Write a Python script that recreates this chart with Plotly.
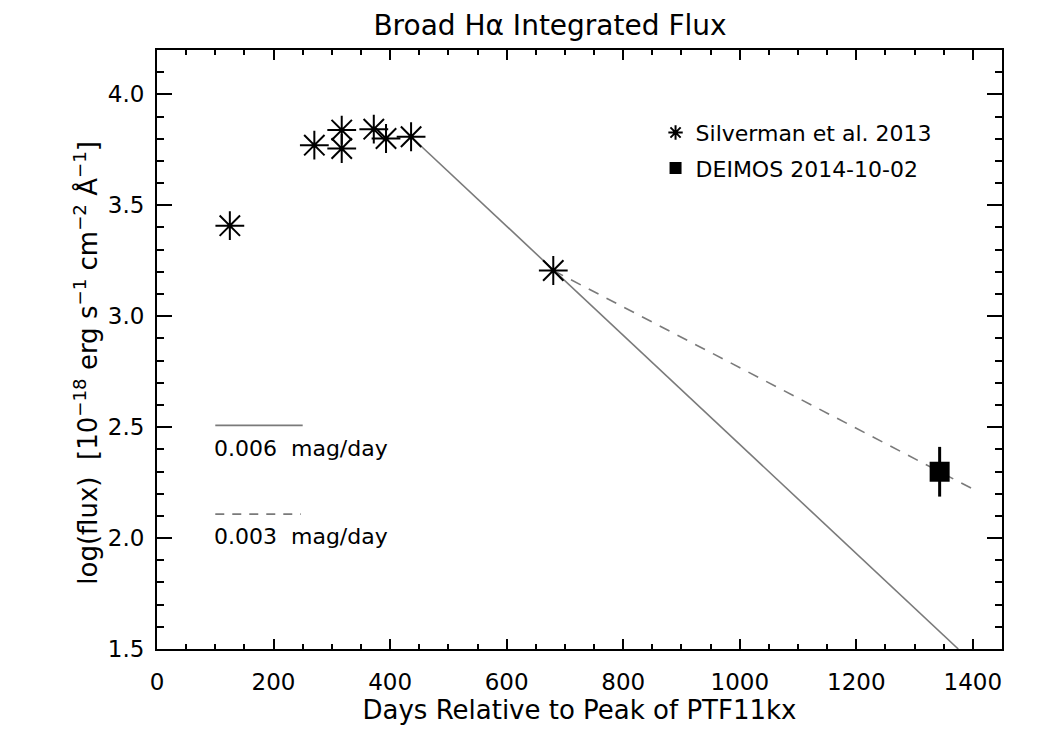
import plotly.graph_objects as go

# ---- data ----
sil_days = [125, 270, 317, 317, 372, 393, 436, 680]
sil_logflux = [3.408, 3.771, 3.839, 3.756, 3.843, 3.801, 3.809, 3.206]

deimos_days = [1343]
deimos_logflux = [2.299]
deimos_err = [0.112]

fast_days = [436, 1375]          # 0.006 mag/day decline
fast_logflux = [3.809, 1.50]
slow_days = [680, 1400]          # 0.003 mag/day decline
slow_logflux = [3.206, 2.221]

x_tickvals = [0, 200, 400, 600, 800, 1000, 1200, 1400]
y_tickvals = [1.5, 2.0, 2.5, 3.0, 3.5, 4.0]
y_ticktext = ["1.5", "2.0", "2.5", "3.0", "3.5", "4.0"]

FONT = "DejaVu Sans"
GRAY = "#7a7a7a"

fig = go.Figure()

fig.add_trace(go.Scatter(x=fast_days, y=fast_logflux, mode="lines",
                         line=dict(color=GRAY, width=1.6), showlegend=False, hoverinfo="skip"))
fig.add_trace(go.Scatter(x=slow_days, y=slow_logflux, mode="lines",
                         line=dict(color=GRAY, width=1.6, dash="11px,9px"),
                         showlegend=False, hoverinfo="skip"))

fig.add_trace(go.Scatter(x=sil_days, y=sil_logflux, mode="markers",
                         name="Silverman et al. 2013", legendgroup="a",
                         marker=dict(symbol="asterisk-open", size=24, color="black",
                                     line=dict(color="black", width=2))))

fig.add_trace(go.Scatter(x=deimos_days, y=deimos_logflux, mode="markers",
                         showlegend=False, hoverinfo="skip",
                         marker=dict(size=1, color="black", opacity=0),
                         error_y=dict(type="data", array=deimos_err, visible=True,
                                      color="black", thickness=3, width=0)))
fig.add_trace(go.Scatter(x=deimos_days, y=deimos_logflux, mode="markers",
                         name="DEIMOS 2014-10-02", legendgroup="b",
                         marker=dict(symbol="square", size=20, color="black",
                                     line=dict(width=0))))

# inline key for decline rates
fig.add_shape(type="line", xref="x", yref="y", x0=100, x1=250, y0=2.508, y1=2.508,
              line=dict(color=GRAY, width=1.6))
fig.add_shape(type="line", xref="x", yref="y", x0=100, x1=247, y0=2.108, y1=2.108,
              line=dict(color=GRAY, width=1.6, dash="9px,8px"))
fig.add_annotation(x=100, y=2.405, xref="x", yref="y", text="0.006  mag/day",
                   showarrow=False, xanchor="left", yanchor="middle",
                   font=dict(family=FONT, size=22, color="black"), xshift=-3)
fig.add_annotation(x=100, y=2.008, xref="x", yref="y", text="0.003  mag/day",
                   showarrow=False, xanchor="left", yanchor="middle",
                   font=dict(family=FONT, size=22, color="black"), xshift=-3)

# y axis title
fig.add_annotation(x=-0.084, y=0.478, xref="paper", yref="paper",
                   text="log(flux)  [10<sup>−18</sup> erg s<sup>−1</sup> cm<sup>−2</sup> Å<sup>−1</sup>]",
                   textangle=-90, showarrow=False, xanchor="center", yanchor="middle",
                   font=dict(family=FONT, size=26, color="black"))

axis_common = dict(showline=True, linecolor="black", linewidth=2, mirror="allticks",
                   ticks="inside", tickcolor="black", showgrid=False, zeroline=False,
                   tickfont=dict(family=FONT, size=23, color="black"))

fig.update_xaxes(range=[0, 1450], tickvals=x_tickvals, ticklen=10, tickwidth=1.5,
                 minor=dict(dtick=50, tick0=0, ticks="inside", ticklen=5, tickwidth=1.5,
                            tickcolor="black", showgrid=False),
                 ticklabelstandoff=11,
                 title=dict(text="Days Relative to Peak of PTF11kx",
                            font=dict(family=FONT, size=26, color="black"), standoff=6),
                 **axis_common)
fig.update_yaxes(range=[1.5, 4.2], tickvals=y_tickvals, ticktext=y_ticktext,
                 ticklen=15, tickwidth=1.5,
                 minor=dict(dtick=0.1, tick0=1.5, ticks="inside", ticklen=7, tickwidth=1.5,
                            tickcolor="black", showgrid=False),
                 ticklabelstandoff=6,
                 **axis_common)

fig.update_layout(
    width=1050, height=750,
    margin=dict(l=157, r=48, t=50, b=101),
    paper_bgcolor="white", plot_bgcolor="white",
    title=dict(text="Broad Hα Integrated Flux", x=550 / 1050, xanchor="center",
               y=1 - 25 / 750, yanchor="middle",
               font=dict(family=FONT, size=28, color="black")),
    legend=dict(x=0.59, y=0.897, xanchor="left", yanchor="top",
                bgcolor="rgba(0,0,0,0)", borderwidth=0, itemsizing="constant",
                traceorder="grouped", tracegroupgap=4,
                font=dict(family=FONT, size=22, color="black")),
    showlegend=True,
)

fig.write_html("out.html")
